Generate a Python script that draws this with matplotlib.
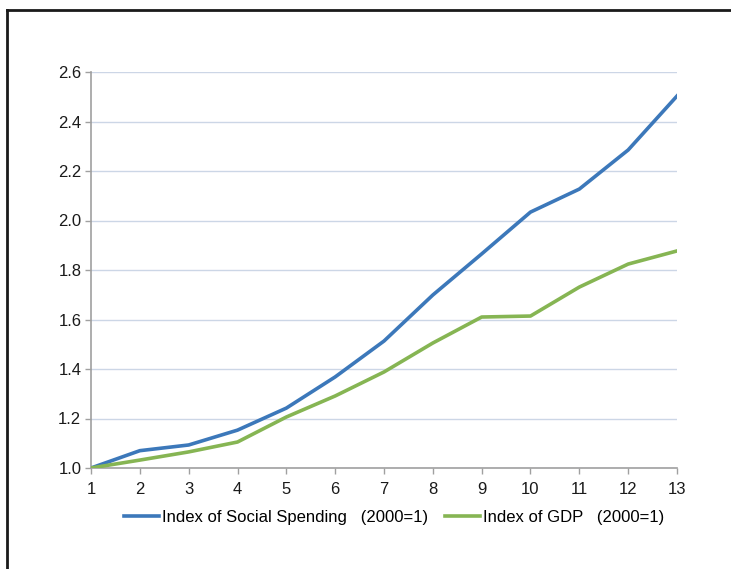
import matplotlib
matplotlib.use('Agg')
from matplotlib import pyplot as plt
from matplotlib.lines import Line2D

plt.rcParams['font.family'] = ['Liberation Sans', 'DejaVu Sans']

years = list(range(1, 14))
social = [1.0, 1.07, 1.093, 1.153, 1.242, 1.368, 1.513, 1.699, 1.865, 2.034, 2.127, 2.285, 2.503]
gdp = [1.0, 1.032, 1.065, 1.105, 1.206, 1.291, 1.388, 1.505, 1.61, 1.614, 1.731, 1.824, 1.877]
yticks = [1.0, 1.2, 1.4, 1.6, 1.8, 2.0, 2.2, 2.4, 2.6]

fig = plt.figure(figsize=(7.31, 5.69), dpi=100)
ax = fig.add_axes([91/731, 1 - 468/569, (677 - 91)/731, (468 - 72)/569])

# outer frame (only left and top edges visible)
fig.add_artist(Line2D([7/731, 7/731], [0, 1 - 10/569], transform=fig.transFigure, color='#1a1a1a', lw=2))
fig.add_artist(Line2D([7/731, 1], [1 - 10/569, 1 - 10/569], transform=fig.transFigure, color='#1a1a1a', lw=2))

ax.plot(years, social, color='#3c78ba', lw=2.6, label='Index of Social Spending   (2000=1)', zorder=3)
ax.plot(years, gdp, color='#86b553', lw=2.6, label='Index of GDP   (2000=1)', zorder=3)

ax.set_xlim(1, 13)
ax.set_ylim(1.0, 2.6)
ax.set_xticks(years)
ax.set_yticks(yticks)
ax.set_yticklabels(['%.1f' % v for v in yticks])
ax.grid(axis='y', color='#ccd6e6', lw=1)
ax.set_axisbelow(True)

for s in ['top', 'right']:
    ax.spines[s].set_visible(False)
for s in ['left', 'bottom']:
    ax.spines[s].set_color('#a0a0a0')
    ax.spines[s].set_linewidth(1.2)
ax.tick_params(axis='both', colors='#a0a0a0', length=4, width=1, labelsize=12, labelcolor='#1a1a1a')
ax.tick_params(axis='x', pad=6)
ax.tick_params(axis='y', pad=3)

ax.legend(loc='upper center', bbox_to_anchor=(0.517, -0.068), ncol=2, frameon=False,
          fontsize=12, handlelength=2.1, handletextpad=0.18, columnspacing=1.0)

fig.savefig('out.png', dpi=100)
